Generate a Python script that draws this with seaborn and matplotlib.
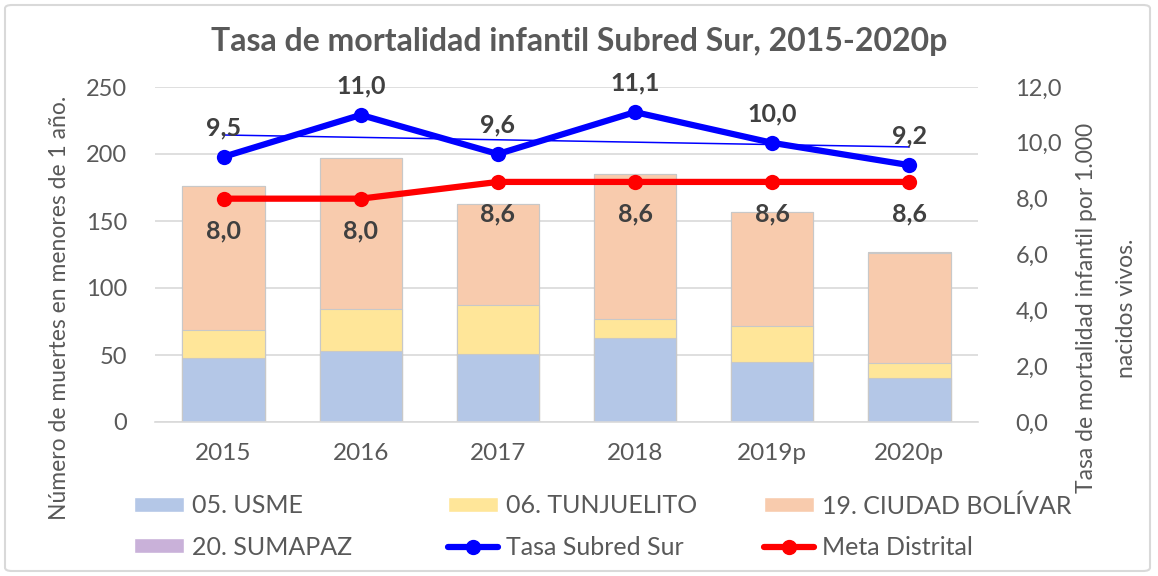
import numpy as np
import pandas as pd
import seaborn as sns
import matplotlib.pyplot as plt
from matplotlib.patches import Patch, FancyBboxPatch
from matplotlib.lines import Line2D

years = ['2015', '2016', '2017', '2018', '2019p', '2020p']
usme = [48, 53, 51, 63, 45, 33]
tunjuelito = [21, 31, 36, 14, 27, 11]
ciudad_bolivar = [107, 113, 76, 108, 85, 82]
sumapaz = [0, 0, 0, 0, 0, 1]
tasa_subred = [9.5, 11.0, 9.6, 11.1, 10.0, 9.2]
meta_distrital = [8.0, 8.0, 8.6, 8.6, 8.6, 8.6]

c_usme = '#B4C7E7'
c_tunj = '#FFE699'
c_cb = '#F8CBAD'
c_sum = '#C9B1D9'
grey_txt = '#595959'
lbl_txt = '#404040'

sns.set_theme(style='white')
plt.rcParams['font.family'] = ['Lato', 'DejaVu Sans']

df = pd.DataFrame({'year': years, 'usme': usme, 'tunj': tunjuelito,
                   'cb': ciudad_bolivar, 'sum': sumapaz})
# cumulative heights for stacking (drawn back to front)
df['s1'] = df['usme']
df['s2'] = df['s1'] + df['tunj']
df['s3'] = df['s2'] + df['cb']
df['s4'] = df['s3'] + df['sum']

fig = plt.figure(figsize=(11.58, 5.76), dpi=100)
ax = fig.add_axes([155 / 1158, 1 - 422 / 576, 823 / 1158, 335 / 576])

for col, c in [('s4', c_sum), ('s3', c_cb), ('s2', c_tunj), ('s1', c_usme)]:
    sns.barplot(data=df, x='year', y=col, color=c, width=0.6, ax=ax,
                edgecolor='#C8C8C8', linewidth=0.8, saturation=1, zorder=2)

ax.set_ylim(0, 250)
ax.set_xlim(-0.5, 5.5)
ax.set_yticks(range(0, 251, 50))
ax.grid(axis='y', color='#D9D9D9', linewidth=1.2, zorder=0)
ax.set_axisbelow(True)
for s in ['left', 'right', 'top']:
    ax.spines[s].set_visible(False)
ax.spines['bottom'].set_color('#D9D9D9')
ax.spines['bottom'].set_linewidth(1.2)
ax.tick_params(axis='y', length=0, colors=grey_txt, labelsize=17, pad=20)
ax.tick_params(axis='x', length=0, colors=grey_txt, labelsize=17.5, pad=15)
ax.set_xlabel('')
ax.set_ylabel('Número de muertes en menores de 1 año.', fontsize=16.5, color=grey_txt)
ax.yaxis.set_label_coords(-0.103, 0.34)

ax2 = ax.twinx()
xpos = np.arange(len(years))
ax2.set_ylim(0, 12)
ax2.set_yticks(np.arange(0, 12.1, 2))
ax2.set_yticklabels([f'{v:.1f}'.replace('.', ',') for v in np.arange(0, 12.1, 2)])
for s in ['left', 'right', 'top', 'bottom']:
    ax2.spines[s].set_visible(False)
ax2.tick_params(axis='y', length=0, colors=grey_txt, labelsize=17, pad=27)
ax2.set_ylabel('Tasa de mortalidad infantil por 1.000\nnacidos vivos.', fontsize=16.5,
               color=grey_txt, multialignment='center', linespacing=2.15)
ax2.yaxis.set_label_coords(1.119, 0.34)

# linear trend of the subred rate
coef = np.polyfit(xpos, tasa_subred, 1)
ax2.plot(xpos, np.polyval(coef, xpos), color='#0000FF', linewidth=1.1, zorder=3)

sns.lineplot(x=xpos, y=tasa_subred, color='#0000FF', linewidth=4.5, marker='o',
             markersize=11, markeredgewidth=0, ax=ax2, zorder=4)
sns.lineplot(x=xpos, y=meta_distrital, color='#FF0000', linewidth=4.5, marker='o',
             markersize=11, markeredgewidth=0, ax=ax2, zorder=4)
ax2.set_xlim(-0.5, 5.5)

for x, v in zip(xpos, tasa_subred):
    ax2.annotate(f'{v:.1f}'.replace('.', ','), (x, v), xytext=(0, 21),
                 textcoords='offset points', ha='center', va='center',
                 fontsize=18, fontweight='bold', color=lbl_txt)
for x, v in zip(xpos, meta_distrital):
    ax2.annotate(f'{v:.1f}'.replace('.', ','), (x, v), xytext=(0, -23),
                 textcoords='offset points', ha='center', va='center',
                 fontsize=18, fontweight='bold', color=lbl_txt)

fig.text(0.5, 1 - 42 / 576, 'Tasa de mortalidad infantil Subred Sur, 2015-2020p',
         ha='center', va='center', fontsize=23, fontweight='bold', color=grey_txt)

# legend: three columns placed individually
def line_handle(c):
    return Line2D([0], [0], color=c, linewidth=4.5, marker='o', markersize=10)

columns = [
    ([Patch(facecolor=c_usme), Patch(facecolor=c_sum)], ['05. USME', '20. SUMAPAZ'], 124),
    ([Patch(facecolor=c_tunj), line_handle('#0000FF')], ['06. TUNJUELITO', 'Tasa Subred Sur'], 438),
    ([Patch(facecolor=c_cb), line_handle('#FF0000')], ['19. CIUDAD BOLÍVAR', 'Meta Distrital'], 754),
]
for handles, labels, xl in columns:
    leg = fig.legend(handles, labels, loc='upper left',
                     bbox_to_anchor=(xl / 1158, 1 - 484 / 576), frameon=False,
                     fontsize=18, handlelength=2.0, handleheight=0.55,
                     handletextpad=0.3, labelspacing=0.75, borderaxespad=0,
                     labelcolor=grey_txt)

fig.patches.append(FancyBboxPatch((5 / 1158, 5 / 576), 1145 / 1158, 566 / 576,
                                  boxstyle='round,pad=0,rounding_size=0.006',
                                  transform=fig.transFigure, facecolor='none',
                                  edgecolor='#D9D9D9', linewidth=1.5))

fig.savefig('out.png', dpi=100)
